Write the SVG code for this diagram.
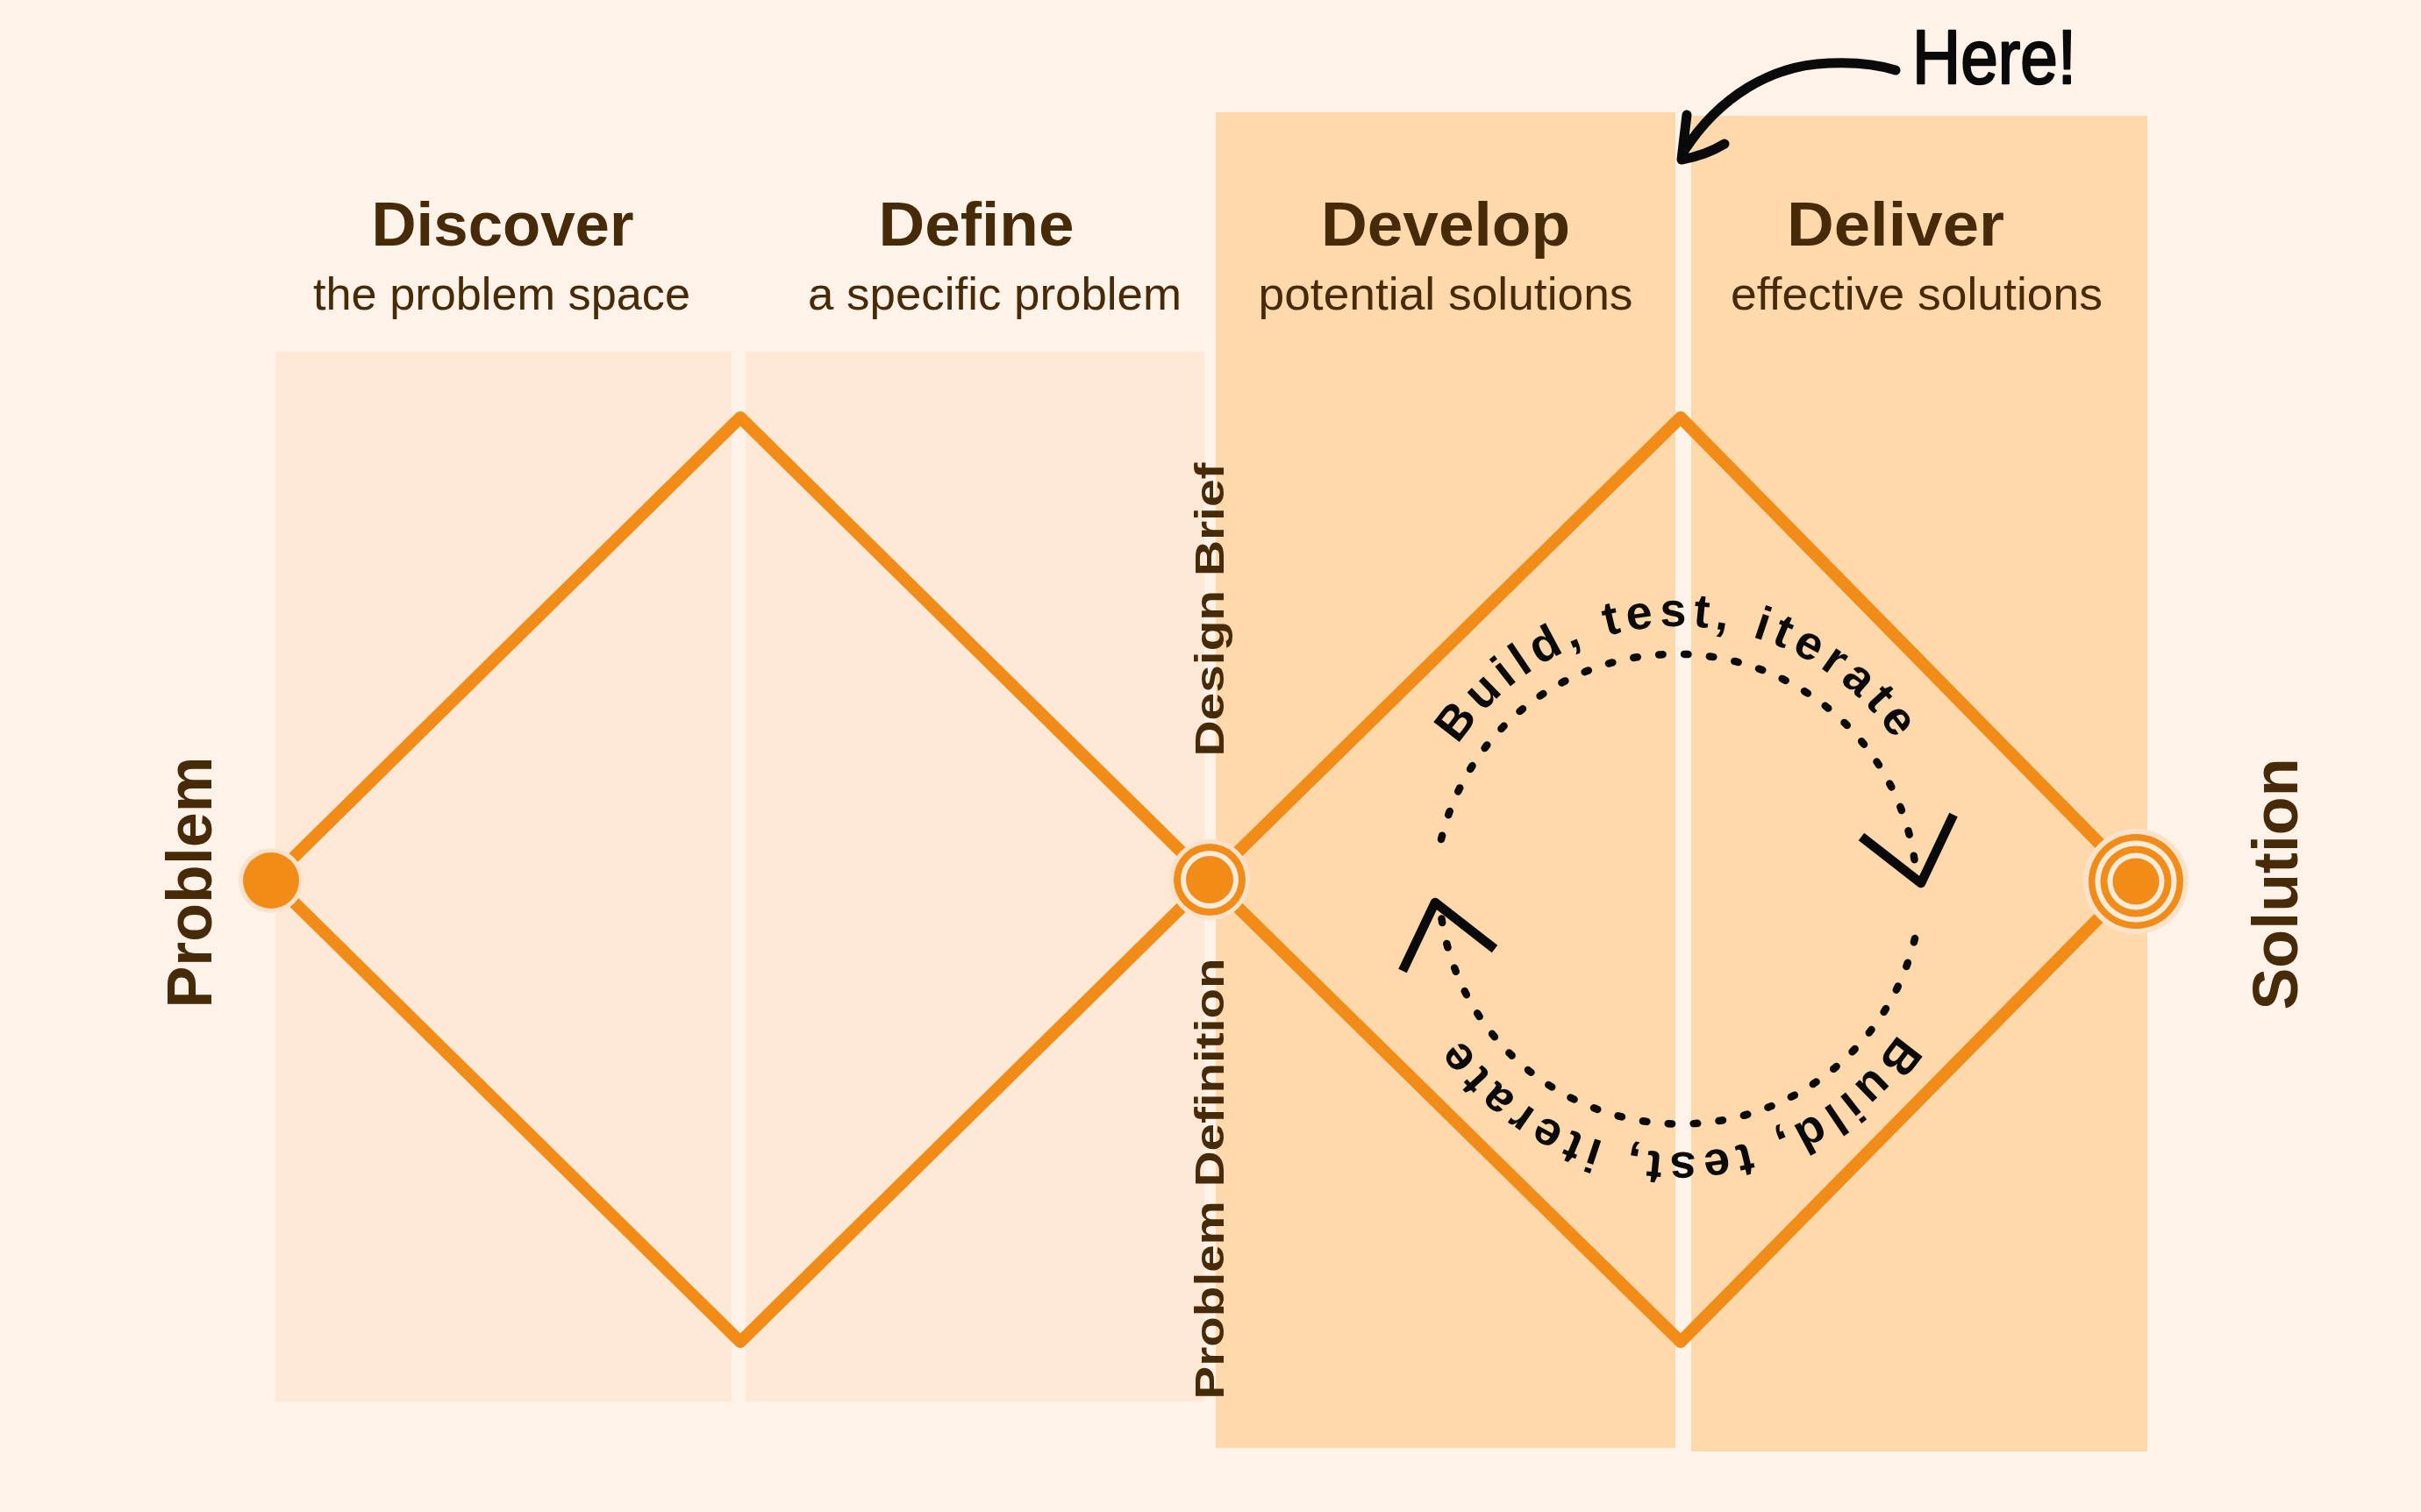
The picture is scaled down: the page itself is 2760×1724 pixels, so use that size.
<svg xmlns="http://www.w3.org/2000/svg" width="2760" height="1724" viewBox="0 0 2760 1724">
  <defs>
    <style>
      .bg { fill: #FFF3E9; }
      .panel-light { fill: #FFE8D6; }
      .panel-dark { fill: #FFD9AC; }
      .title { font-family: "Liberation Sans", Arial, sans-serif; font-weight: 700; font-size: 70px; fill: #472A08; text-anchor: middle; }
      .sub { font-family: "Liberation Sans", Arial, sans-serif; font-weight: 400; font-size: 52px; fill: #472A08; text-anchor: middle; }
      .side { font-family: "Liberation Sans", Arial, sans-serif; font-weight: 700; font-size: 72px; fill: #472A08; text-anchor: middle; }
      .mid { font-family: "Liberation Sans", Arial, sans-serif; font-weight: 700; font-size: 46px; fill: #472A08; text-anchor: middle; }
      .diamond { fill: none; stroke: #F28C18; stroke-width: 14; stroke-linejoin: round; stroke-linecap: round; }
      .halo { fill: #FBE2CC; }
      .orange { fill: #F28C18; }
      .ring { fill: #FFEBDA; }
      .dots { fill: none; stroke: #0A0A0A; stroke-width: 8.5; stroke-linecap: round; stroke-dasharray: 4.5 24.5; }
      .chev { fill: none; stroke: #0A0A0A; stroke-width: 10.5; stroke-linejoin: round; stroke-linecap: butt; }
      .cycle-text { font-family: "Liberation Sans", Arial, sans-serif; font-weight: 700; font-size: 54px; fill: #0A0A0A; letter-spacing: 7px; }
      .hand { fill: none; stroke: #0A0A0A; stroke-width: 11; stroke-linecap: round; stroke-linejoin: round; }
      .here { font-family: "Liberation Sans Narrow", "Liberation Sans", Arial, sans-serif; font-weight: 400; font-size: 88px; fill: #0A0A0A; stroke: #0A0A0A; stroke-width: 2.5; stroke-linejoin: round; }
    </style>
    <path id="arcTop" d="M 1613 1014 A 300 300 0 0 1 2213 1014"/>
    <path id="arcBottom" d="M 2213 1014 A 300 300 0 0 1 1613 1014"/>
  </defs>

  <rect class="bg" x="0" y="0" width="2760" height="1724"/>

  <g id="panels">
    <rect id="panel-discover" class="panel-light" x="314" y="401" width="520" height="1197"/>
    <rect id="panel-define" class="panel-light" x="850" y="401" width="523" height="1197"/>
    <rect id="panel-develop" class="panel-dark" x="1386" y="128" width="524" height="1523"/>
    <rect id="panel-deliver" class="panel-dark" x="1928" y="132" width="520" height="1523"/>
  </g>

  <g id="phase-discover">
    <text class="title" x="573" y="280" textLength="299" lengthAdjust="spacingAndGlyphs">Discover</text>
    <text class="sub" x="572" y="353" textLength="430" lengthAdjust="spacingAndGlyphs">the problem space</text>
  </g>
  <g id="phase-define">
    <text class="title" x="1113" y="280" textLength="223" lengthAdjust="spacingAndGlyphs">Define</text>
    <text class="sub" x="1134" y="353" textLength="426" lengthAdjust="spacingAndGlyphs">a specific problem</text>
  </g>
  <g id="phase-develop">
    <text class="title" x="1648" y="280" textLength="284" lengthAdjust="spacingAndGlyphs">Develop</text>
    <text class="sub" x="1648" y="353" textLength="427" lengthAdjust="spacingAndGlyphs">potential solutions</text>
  </g>
  <g id="phase-deliver">
    <text class="title" x="2161" y="280" textLength="248" lengthAdjust="spacingAndGlyphs">Deliver</text>
    <text class="sub" x="2185" y="353" textLength="424" lengthAdjust="spacingAndGlyphs">effective solutions</text>
  </g>

  <g id="connectors">
    <path class="diamond" d="M 309 1003 L 844 476 L 1379 1003 L 844 1530 Z"/>
    <path class="diamond" d="M 1379 1003 L 1916 476 L 2435 1004 L 1916 1530 Z"/>
  </g>

  <g id="cycle">
    <path class="dots" d="M 1643 957 A 275 275 0 0 1 2184 992"/>
    <polyline class="chev" points="2122,954 2190,1007 2227,929"/>
    <path class="dots" d="M 2183 1070 A 275 275 0 0 1 1642 1036"/>
    <polyline class="chev" points="1704,1082 1636,1029 1599,1107"/>
    <text class="cycle-text"><textPath href="#arcTop" startOffset="50%" text-anchor="middle">Build, test, iterate</textPath></text>
    <text class="cycle-text"><textPath href="#arcBottom" startOffset="50%" text-anchor="middle">Build, test, iterate</textPath></text>
  </g>

  <g id="node-problem">
    <circle class="halo" cx="309" cy="1004" r="37"/>
    <circle class="orange" cx="309" cy="1004" r="32"/>
    <text class="side" transform="translate(241,1006) rotate(-90)" textLength="287" lengthAdjust="spacingAndGlyphs">Problem</text>
  </g>

  <g id="node-brief">
    <circle class="halo" cx="1379" cy="1003" r="46"/>
    <circle class="orange" cx="1379" cy="1003" r="41"/>
    <circle class="ring" cx="1379" cy="1003" r="33"/>
    <circle class="orange" cx="1379" cy="1003" r="27"/>
    <text class="mid" transform="translate(1395,695) rotate(-90)" textLength="335" lengthAdjust="spacingAndGlyphs">Design Brief</text>
    <text class="mid" transform="translate(1395,1344) rotate(-90)" textLength="503" lengthAdjust="spacingAndGlyphs">Problem Definition</text>
  </g>

  <g id="node-solution">
    <circle class="halo" cx="2435" cy="1005" r="60"/>
    <circle class="orange" cx="2435" cy="1005" r="54"/>
    <circle class="ring" cx="2435" cy="1005" r="46.5"/>
    <circle class="orange" cx="2435" cy="1005" r="40.5"/>
    <circle class="ring" cx="2435" cy="1005" r="32.5"/>
    <circle class="orange" cx="2435" cy="1005" r="26.5"/>
    <text class="side" transform="translate(2619,1008) rotate(-90)" textLength="287" lengthAdjust="spacingAndGlyphs">Solution</text>
  </g>

  <g id="annotation-here">
    <path class="hand" d="M 2161 80 Q 2130 70 2085 72 C 2020 74 1960 110 1920 172"/>
    <path class="hand" d="M 1923 131 L 1917 182 Q 1945 177 1966 164"/>
    <text class="here" x="2180" y="95" textLength="187" lengthAdjust="spacingAndGlyphs">Here!</text>
  </g>
</svg>
